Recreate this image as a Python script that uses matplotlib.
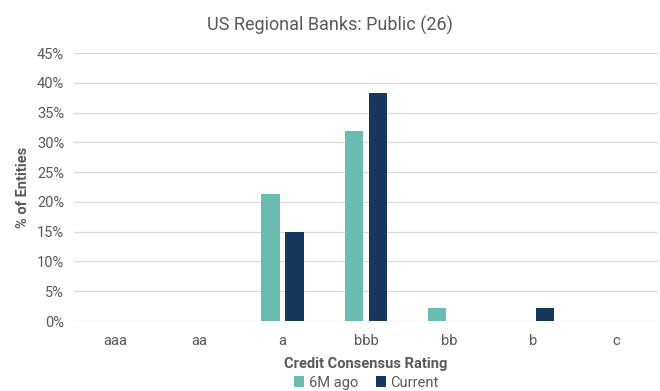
import matplotlib
matplotlib.use("Agg")
import matplotlib.pyplot as plt
import numpy as np
from matplotlib.ticker import FuncFormatter

plt.rcParams['font.family'] = ['Roboto', 'DejaVu Sans']

categories = ["aaa", "aa", "a", "bbb", "bb", "b", "c"]
six_months_ago = [0, 0, 21.28, 31.91, 2.13, 0, 0]
current = [0, 0, 14.89, 38.30, 0, 2.13, 0]
y_ticks = [0, 5, 10, 15, 20, 25, 30, 35, 40, 45]

teal = "#6ABBB0"
navy = "#17375E"
text_gray = "#595959"
grid_gray = "#D9D9D9"

fig = plt.figure(figsize=(6.6, 3.91), dpi=100)
ax = fig.add_axes([0.112, 0.179, 0.885, 0.685])

x = np.arange(len(categories))
w = 0.22
off = 0.145
ax.bar(x - off, six_months_ago, width=w, color=teal, label="6M ago", zorder=3)
ax.bar(x + off, current, width=w, color=navy, label="Current", zorder=3)

ax.set_xlim(-0.5, len(categories) - 0.5)
ax.set_ylim(0, 45)
ax.set_yticks(y_ticks)
ax.yaxis.set_major_formatter(FuncFormatter(lambda v, p: f"{v:.0f}%"))
ax.set_xticks(x)
ax.set_xticklabels(categories)
ax.grid(axis="y", color=grid_gray, linewidth=0.9, zorder=0)
for s in ax.spines.values():
    s.set_visible(False)
ax.tick_params(axis="both", length=0, labelsize=10.5, labelcolor=text_gray)
ax.tick_params(axis="x", pad=9)
ax.tick_params(axis="y", pad=7)

fig.text(0.5, 0.935, "US Regional Banks: Public (26)", ha="center", va="center",
         fontsize=13, color=text_gray)
ax.set_ylabel("% of Entities", fontsize=10.5, fontweight="bold", color=text_gray, labelpad=5)
ax.set_xlabel("Credit Consensus Rating", fontsize=10.5, fontweight="bold", color=text_gray, labelpad=7)

leg = fig.legend(loc="lower center", bbox_to_anchor=(0.555, -0.03), ncol=2, frameon=False,
                 fontsize=10.5, handlelength=0.7, handleheight=0.7, handletextpad=0.3,
                 columnspacing=1.2, labelcolor=text_gray)

fig.savefig("out.png", dpi=100)
